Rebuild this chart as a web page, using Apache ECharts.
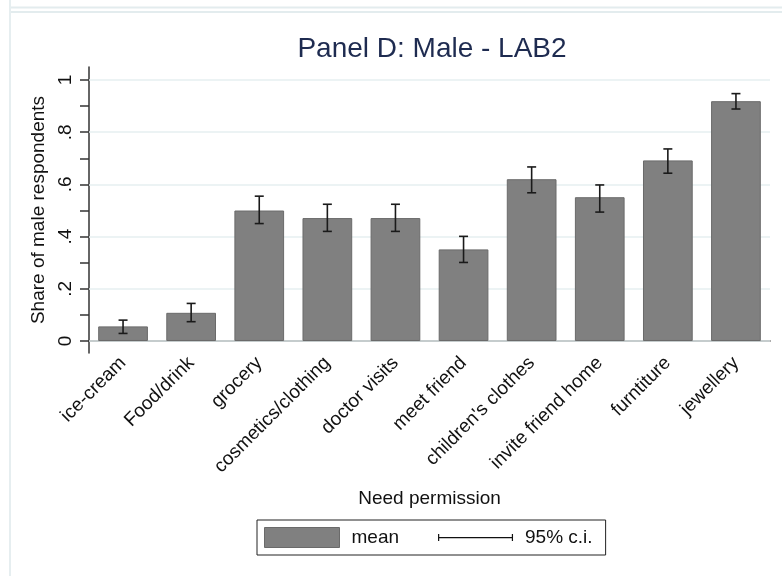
<!DOCTYPE html>
<html>
<head>
<meta charset="utf-8">
<script src="https://cdn.jsdelivr.net/npm/echarts@6/dist/echarts.min.js"></script>
<style>
  html, body { margin: 0; padding: 0; background: #fff; }
  #chart { width: 782px; height: 576px; }
</style>
</head>
<body>
<div id="chart"></div>
<script>
// Items that need permission
const categories = ['ice-cream', 'Food/drink', 'grocery', 'cosmetics/clothing', 'doctor visits',
  'meet friend', "children's clothes", 'invite friend home', 'furntiture', 'jewellery'];
// Share of male respondents (mean) and 95% confidence bounds
const means  = [0.056, 0.108, 0.500, 0.471, 0.471, 0.351, 0.620, 0.551, 0.692, 0.919];
const ciLow  = [0.029, 0.074, 0.450, 0.420, 0.420, 0.301, 0.568, 0.494, 0.643, 0.889];
const ciHigh = [0.080, 0.144, 0.555, 0.524, 0.524, 0.401, 0.667, 0.598, 0.736, 0.948];
// Y axis ticks: labelled every .2, tick marks every .1
const yLabelValues = [0, 0.2, 0.4, 0.6, 0.8, 1];
const yLabelTexts  = ['0', '.2', '.4', '.6', '.8', '1'];
const yTickValues  = [0, 0.1, 0.2, 0.3, 0.4, 0.5, 0.6, 0.7, 0.8, 0.9, 1];

const FONT = 'Liberation Sans, Arial, sans-serif';
const chart = echarts.init(document.getElementById('chart'), null, { renderer: 'canvas' });

const ciData = categories.map((c, i) => [i, ciLow[i], ciHigh[i]]);

chart.setOption({
  backgroundColor: '#ffffff',
  animation: false,
  title: {
    text: 'Panel D: Male - LAB2',
    left: 427, top: 30, textAlign: 'center',
    textStyle: { fontFamily: FONT, fontSize: 28, fontWeight: 'normal', color: '#1e2b50' }
  },
  graphic: [
    { type: 'line', shape: { x1: 10, y1: 7.5, x2: 782, y2: 7.5 }, style: { stroke: '#e3ecee', lineWidth: 2 }, silent: true },
    { type: 'line', shape: { x1: 10, y1: 12, x2: 782, y2: 12 }, style: { stroke: '#e3ecee', lineWidth: 2 }, silent: true },
    { type: 'line', shape: { x1: 10, y1: 0, x2: 10, y2: 576 }, style: { stroke: '#e6eef0', lineWidth: 2 }, silent: true }
  ],
  legend: {
    left: 257, top: 520,
    orient: 'horizontal',
    borderColor: '#222', borderWidth: 1,
    padding: [7, 13, 7, 7],
    itemWidth: 75, itemHeight: 20, itemGap: 39,
    textStyle: { fontFamily: FONT, fontSize: 19, color: '#111', padding: [0, 0, 0, 7] },
    data: [
      { name: 'mean', icon: 'rect', itemStyle: { color: '#808080', borderColor: '#6a6a6a', borderWidth: 1 } },
      { name: '95% c.i.', icon: 'path://M0,3h75v1.2h-75z M0,0h1.2v7h-1.2z M73.8,0h1.2v7h-1.2z', itemStyle: { color: '#111', borderWidth: 0 } }
    ]
  },
  grid: { left: 89, right: 12, top: 67, bottom: 223, containLabel: false },
  xAxis: {
    type: 'category',
    data: categories,
    name: 'Need permission',
    nameLocation: 'middle',
    nameGap: 136,
    nameTextStyle: { fontFamily: FONT, fontSize: 19, color: '#111' },
    axisLine: { show: true, lineStyle: { color: '#333', width: 1.5 } },
    axisTick: { show: false },
    axisLabel: {
      interval: 0, rotate: 45, margin: 7,
      fontFamily: FONT, fontSize: 19, color: '#111'
    },
    splitLine: { show: false }
  },
  yAxis: {
    type: 'value',
    min: -0.046, max: 1.05,
    name: 'Share of male respondents',
    nameLocation: 'middle',
    nameGap: 36,
    nameRotate: 90,
    nameTextStyle: { fontFamily: FONT, fontSize: 19, color: '#111' },
    axisLine: { show: true, onZero: false, lineStyle: { color: '#333', width: 1.5 } },
    axisTick: { show: true, length: 9, customValues: yTickValues, lineStyle: { color: '#333', width: 1.5 } },
    axisLabel: {
      customValues: yLabelValues,
      rotate: 90, margin: 14,
      fontFamily: FONT, fontSize: 19, color: '#111',
      formatter: v => {
        const k = yLabelValues.findIndex(x => Math.abs(x - v) < 1e-9);
        return k >= 0 ? yLabelTexts[k] : '';
      }
    },
    splitLine: { show: false }
  },
  series: [
    {
      name: 'mean',
      type: 'bar',
      data: means,
      barWidth: '73%',
      z: 2,
      itemStyle: { color: '#808080', borderColor: '#6a6a6a', borderWidth: 1 },
      markLine: {
        silent: true, symbol: 'none', z: 1,
        label: { show: false },
        lineStyle: { color: '#e6eff1', width: 1.5, type: 'solid' },
        emphasis: { disabled: true },
        data: yLabelValues.map(v => ({ yAxis: v }))
      }
    },
    {
      name: '95% c.i.',
      type: 'custom',
      z: 3,
      data: ciData,
      renderItem: (params, api) => {
        const x = api.value(0);
        const lo = api.coord([x, api.value(1)]);
        const hi = api.coord([x, api.value(2)]);
        const h = 4.5;
        const style = { stroke: '#1a1a1a', lineWidth: 1.6, fill: null };
        return {
          type: 'group',
          children: [
            { type: 'line', shape: { x1: lo[0], y1: lo[1], x2: hi[0], y2: hi[1] }, style },
            { type: 'line', shape: { x1: lo[0] - h, y1: lo[1], x2: lo[0] + h, y2: lo[1] }, style },
            { type: 'line', shape: { x1: hi[0] - h, y1: hi[1], x2: hi[0] + h, y2: hi[1] }, style }
          ]
        };
      }
    }
  ]
});
</script>
</body>
</html>
